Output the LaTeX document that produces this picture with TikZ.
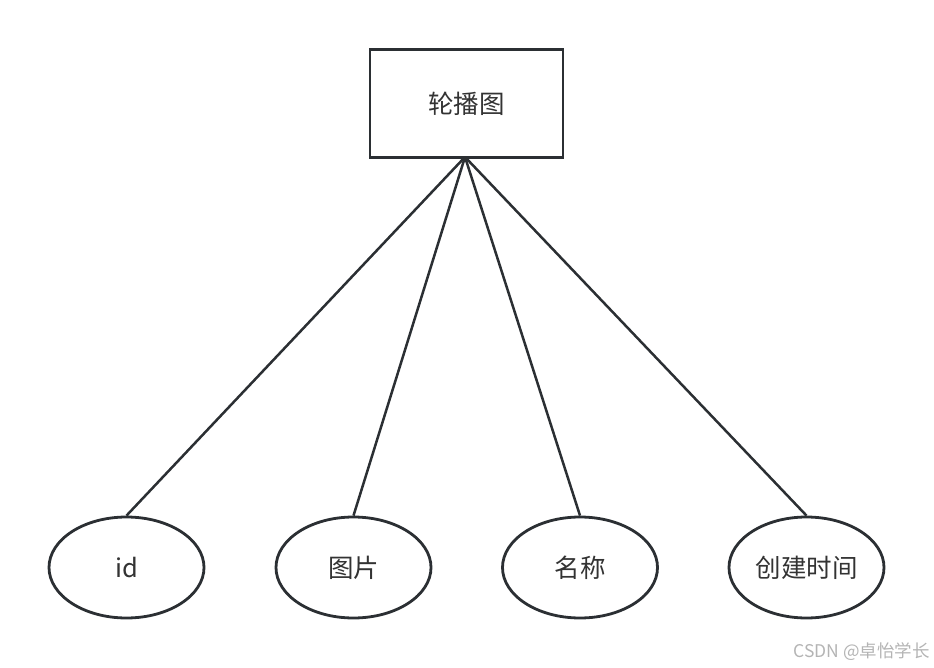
\documentclass[tikz,border=0pt]{standalone}
\usepackage{fontspec}
\setmainfont{Noto Sans CJK SC}
\usetikzlibrary{shapes.geometric}
\definecolor{edge}{HTML}{2B2F33}
\definecolor{txt}{HTML}{333333}
\definecolor{wm}{HTML}{B4B4B4}
\begin{document}
\begin{tikzpicture}[x=1pt,y=-1pt,
  entity/.style={draw=edge,line width=2.8pt,fill=white,minimum width=193pt,minimum height=108pt,inner sep=0pt,font=\fontsize{25.5}{30}\selectfont,text=txt},
  attr/.style={draw=edge,line width=2.8pt,fill=white,ellipse,minimum width=155pt,minimum height=101pt,inner sep=0pt,font=\fontsize{25.5}{30}\selectfont,text=txt},
  link/.style={draw=edge,line width=2.5pt}]
\useasboundingbox (0,0) rectangle (934,668);
\node[entity] (e) at (466.5,103.5) {轮播图};
\coordinate (c) at (465,157);
\node[attr] (a1) at (126.5,567.5) {id};
\node[attr] (a2) at (353.5,567.5) {图片};
\node[attr] (a3) at (580,567.5) {名称};
\node[attr] (a4) at (806.5,567.5) {创建时间};
\draw[link] (c) -- (a1.north);
\draw[link] (c) -- (a2.north);
\draw[link] (c) -- (a3.north);
\draw[link] (c) -- (a4.north);
\node[text=wm,font=\fontsize{17.5}{20}\selectfont,anchor=east,inner sep=0pt] (w) at (930,652) {CSDN @卓怡学长};
\end{tikzpicture}
\end{document}
